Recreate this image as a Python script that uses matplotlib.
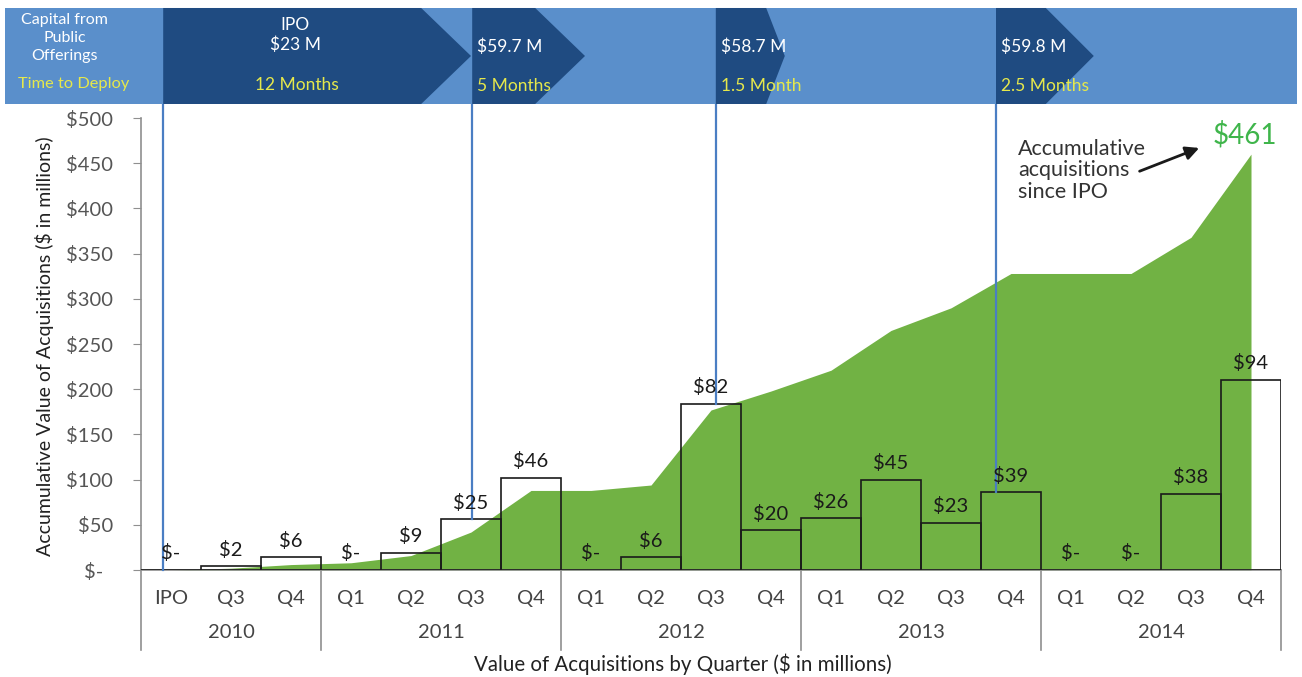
import matplotlib.pyplot as plt
import numpy as np
from matplotlib.patches import Polygon, Rectangle

plt.rcParams['font.family'] = ['Lato', 'DejaVu Sans']
plt.rcParams['text.parse_math'] = False

# data
quarters = ['IPO', 'Q3', 'Q4', 'Q1', 'Q2', 'Q3', 'Q4', 'Q1', 'Q2', 'Q3', 'Q4',
            'Q1', 'Q2', 'Q3', 'Q4', 'Q1', 'Q2', 'Q3', 'Q4']
years = ['2010', '2011', '2012', '2013', '2014']
year_sizes = [3, 4, 4, 4, 4]
bar_labels = ['$-', '$2', '$6', '$-', '$9', '$25', '$46', '$-', '$6', '$82', '$20',
              '$26', '$45', '$23', '$39', '$-', '$-', '$38', '$94']
bar_height = [0, 4, 14, 0, 19, 56, 102, 0, 14, 184, 44, 57, 100, 52, 86, 0, 0, 84, 210]
cumulative = [0, 2, 6, 8, 16, 42, 88, 88, 94, 177, 198, 221, 265, 290, 328, 328, 328, 368, 460]
total_label = '$461'

# public offerings (banner)
offer_x = [-0.13, 5.02, 9.08, 13.75]
offer_bar = [0, 5, 9, 14]
offer_amt = ['IPO\n$23 M', '$59.7 M', '$58.7 M', '$59.8 M']
offer_time = ['12 Months', '5 Months', '1.5 Month', '2.5 Months']
chev_body = [4.17, 6.07, 9.92, 14.58]
chev_tip = [5.0, 6.9, 10.23, 15.38]

# colours
green = '#71b244'
green_txt = '#3fb54b'
light_blue = '#5a8fcb'
dark_blue = '#1f4b81'
yellow = '#e6e84b'
line_blue = '#4a7ec3'
grey = '#8f8f8f'

fig = plt.figure(figsize=(13.02, 6.77), dpi=100)
ax = fig.add_axes([141/1302, 1-570/677, 1140/1302, 452/677])
ax.set_xlim(-0.5, 18.5)
ax.set_ylim(0, 500)

x = np.arange(len(quarters))
ax.fill_between(x, cumulative, color=green, lw=0, zorder=1)
ax.bar(x, bar_height, width=1.0, fill=False, edgecolor='#1a1a1a', lw=1.2, zorder=3)

for i in range(len(x)):
    ax.annotate(bar_labels[i], (x[i], bar_height[i]), xytext=(0, 12), textcoords='offset points',
                ha='center', va='center', fontsize=14.5, color='#1a1a1a', zorder=5)

# banner on top
lo, hi = 515.5, 621.7
mid = (lo + hi) / 2
ax.add_patch(Rectangle((-2.77, lo), 21.54, hi - lo, color=light_blue, lw=0, clip_on=False, zorder=6))
for i in range(len(offer_x)):
    s, b, t = offer_x[i], chev_body[i], chev_tip[i]
    ax.add_patch(Polygon([(s, lo), (s, hi), (b, hi), (t, mid), (b, lo)], closed=True,
                         color=dark_blue, lw=0, clip_on=False, zorder=7))
    ax.plot([s, s], [bar_height[offer_bar[i]], lo], color=line_blue, lw=1.6, clip_on=False, zorder=4)
    if i == 0:
        ax.text(2.07, 592, offer_amt[i], ha='center', va='center', color='white', fontsize=12.5,
                linespacing=1.3, zorder=8)
        ax.text(2.1, 536.5, offer_time[i], ha='center', va='center', color=yellow, fontsize=12.5, zorder=8)
    else:
        ax.text(s + 0.08, 579, offer_amt[i], ha='left', va='center', color='white', fontsize=12.5, zorder=8)
        ax.text(s + 0.08, 535.5, offer_time[i], ha='left', va='center', color=yellow, fontsize=12.5, zorder=8)

ax.text(-1.77, 588.5, 'Capital from\nPublic\nOfferings', ha='center', va='center', color='white',
        fontsize=11.5, linespacing=1.4, zorder=8)
ax.text(-1.62, 537.6, 'Time to Deploy', ha='center', va='center', color=yellow, fontsize=11.8, zorder=8)

# axes styling
for sp in ['top', 'right']:
    ax.spines[sp].set_visible(False)
ax.spines['left'].set_color(grey)
ax.spines['bottom'].set_color(grey)
ax.spines['left'].set_linewidth(1.2)
ax.spines['bottom'].set_linewidth(1.2)
yt = np.arange(0, 501, 50)
ax.set_yticks(yt)
ax.set_yticklabels(['$-  '] + ['$' + str(v) for v in yt[1:]])
ax.tick_params(axis='y', direction='out', length=6, color=grey, pad=14, labelsize=14.5, labelcolor='#555555')
ax.set_xticks([])

# two level category axis
for i in range(len(x)):
    ax.text(x[i], -32, quarters[i], ha='center', va='center', fontsize=14.5, color='#444444', clip_on=False)
edges = np.concatenate([[0], np.cumsum(year_sizes)]) - 0.5
for e in edges:
    ax.plot([e, e], [0, -88.5], color=grey, lw=1.2, clip_on=False)
for j in range(len(years)):
    ax.text((edges[j] + edges[j+1]) / 2, -68.6, years[j], ha='center', va='center', fontsize=14.5,
            color='#444444', clip_on=False)

# annotation
ax.annotate('', xy=(17.18, 468), xytext=(16.1, 440),
            arrowprops=dict(arrowstyle='-|>', color='#1a1a1a', lw=2, mutation_scale=20), zorder=5)
ax.text(14.12, 442, 'Accumulative\nacquisitions\nsince IPO', ha='left', va='center', fontsize=15.5,
        linespacing=1.12, color='#333333', zorder=5)
ax.text(17.9, 481, total_label, ha='center', va='center', fontsize=20, color=green_txt, zorder=5)

fig.text(45/1302, 1-346/677, 'Accumulative Value of Acquisitions ($ in millions)', rotation=90,
         ha='center', va='center', fontsize=14, color='#222222')
fig.text(683/1302, 1-664/677, 'Value of Acquisitions by Quarter ($ in millions)', ha='center', va='center',
         fontsize=14.8, color='#222222')

fig.savefig('out.png', dpi=100)
